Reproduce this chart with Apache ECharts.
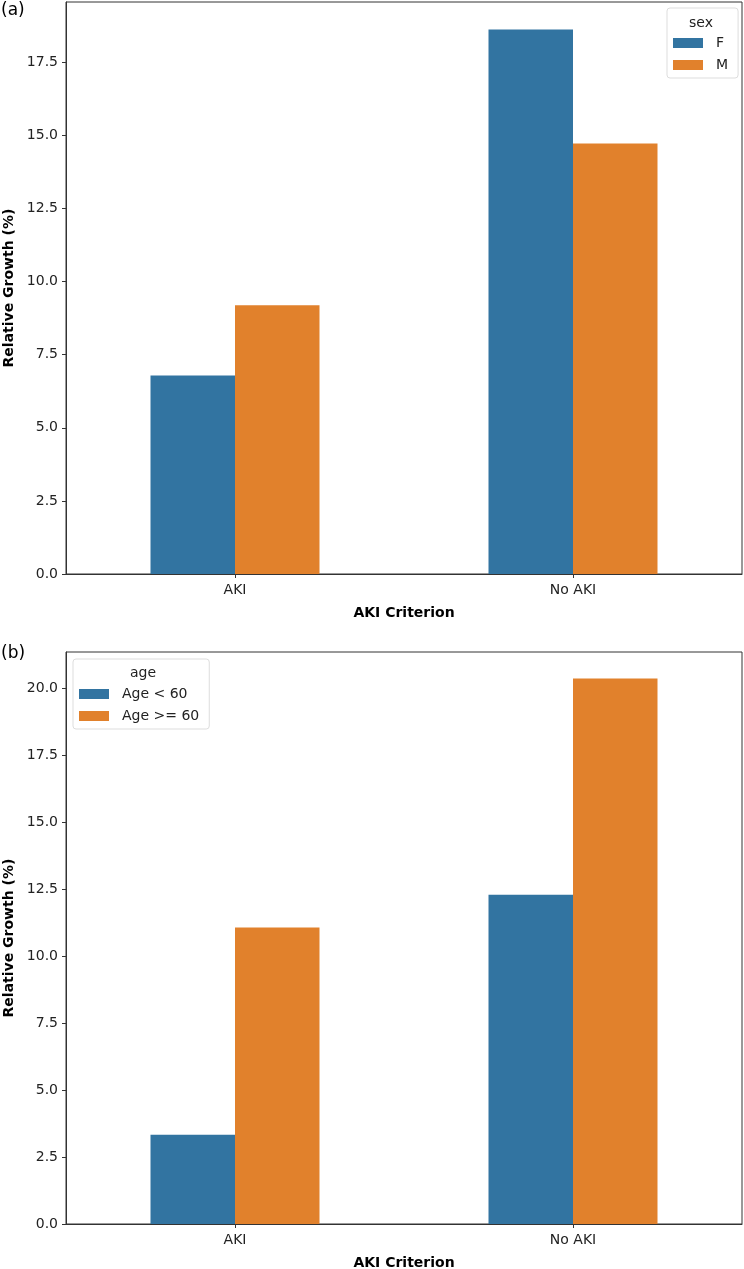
<!DOCTYPE html>
<html>
<head>
<meta charset="utf-8">
<script src="https://cdn.jsdelivr.net/npm/echarts@6/dist/echarts.min.js"></script>
<style>
  html, body { margin: 0; padding: 0; background: #fff; }
  #chart { width: 744px; height: 1269px; }
</style>
</head>
<body>
<div id="chart"></div>
<script>
// categories shared by both panels
var categories = ['AKI', 'No AKI']
// panel (a): by sex
var sexNames = ['F', 'M']
var sexF = [6.79, 18.62]
var sexM = [9.19, 14.72]
// panel (b): by age
var ageNames = ['Age < 60', 'Age >= 60']
var ageYoung = [3.33, 12.28]
var ageOld = [11.06, 20.35]

var blue = '#3274a1'
var orange = '#e1812c'
var font = 'DejaVu Sans'

function yAxis (idx, max) {
  return {
    gridIndex: idx,
    type: 'value',
    min: 0,
    max: max,
    interval: 2.5,
    name: 'Relative Growth (%)',
    nameLocation: 'middle',
    nameGap: 50,
    nameTextStyle: { fontFamily: font, fontSize: 14, fontWeight: 'bold', color: '#000' },
    axisLine: { show: true, lineStyle: { color: '#333', width: 1 } },
    axisTick: { show: true, inside: false, length: 4, lineStyle: { color: '#333' } },
    axisLabel: {
      fontFamily: font, fontSize: 14, color: '#222', margin: 8,
      showMaxLabel: false,
      formatter: function (v) { return v.toFixed(1) }
    },
    splitLine: { show: false }
  }
}

function xAxis (idx) {
  return {
    gridIndex: idx,
    type: 'category',
    data: categories,
    name: 'AKI Criterion',
    nameLocation: 'middle',
    nameGap: 32,
    nameTextStyle: { fontFamily: font, fontSize: 14, fontWeight: 'bold', color: '#000' },
    axisLine: { show: true, lineStyle: { color: '#333', width: 1 } },
    axisTick: { show: true, alignWithLabel: true, length: 4, lineStyle: { color: '#333' } },
    axisLabel: { fontFamily: font, fontSize: 14, color: '#222', margin: 9 },
    splitLine: { show: false }
  }
}

function bar (name, data, idx, color) {
  return {
    name: name,
    type: 'bar',
    xAxisIndex: idx,
    yAxisIndex: idx,
    data: data,
    barWidth: '25%',
    barGap: '0%',
    itemStyle: { color: color },
    emphasis: { disabled: true }
  }
}

function legend (names, left, top) {
  return {
    data: names,
    orient: 'vertical',
    left: left,
    top: top,
    padding: [28, 10, 6, 6],
    itemGap: 8,
    itemWidth: 30,
    itemHeight: 10,
    icon: 'rect',
    borderColor: '#ddd',
    borderWidth: 1,
    borderRadius: 3,
    backgroundColor: 'rgba(255,255,255,0.8)',
    textStyle: { fontFamily: font, fontSize: 14, color: '#222', padding: [0, 0, 0, 8] }
  }
}

var chart = echarts.init(document.getElementById('chart'))
var option = {
  animation: false,
  backgroundColor: '#fff',
  grid: [
    { left: 66, right: 2, top: 2, height: 572, outerBoundsMode: 'none', containLabel: false, show: true, borderColor: '#333', borderWidth: 1, backgroundColor: 'transparent' },
    { left: 66, right: 2, top: 652, height: 572, outerBoundsMode: 'none', containLabel: false, show: true, borderColor: '#333', borderWidth: 1, backgroundColor: 'transparent' }
  ],
  xAxis: [xAxis(0), xAxis(1)],
  yAxis: [yAxis(0, 19.56), yAxis(1, 21.34)],
  legend: [legend(sexNames, 667, 8), legend(ageNames, 73, 659)],
  graphic: [
    { type: 'text', left: 1, top: 2, style: { text: '(a)', font: '17px "DejaVu Sans"', fill: '#000' } },
    { type: 'text', left: 1, top: 645, style: { text: '(b)', font: '17px "DejaVu Sans"', fill: '#000' } },
    { type: 'text', x: 701, y: 23, style: { text: 'sex', font: '14px "DejaVu Sans"', fill: '#222', align: 'center', verticalAlign: 'middle' }, z: 100 },
    { type: 'text', x: 143, y: 673, style: { text: 'age', font: '14px "DejaVu Sans"', fill: '#222', align: 'center', verticalAlign: 'middle' }, z: 100 }
  ],
  series: [
    bar(sexNames[0], sexF, 0, blue),
    bar(sexNames[1], sexM, 0, orange),
    bar(ageNames[0], ageYoung, 1, blue),
    bar(ageNames[1], ageOld, 1, orange)
  ]
}
chart.setOption(option)
</script>
</body>
</html>
